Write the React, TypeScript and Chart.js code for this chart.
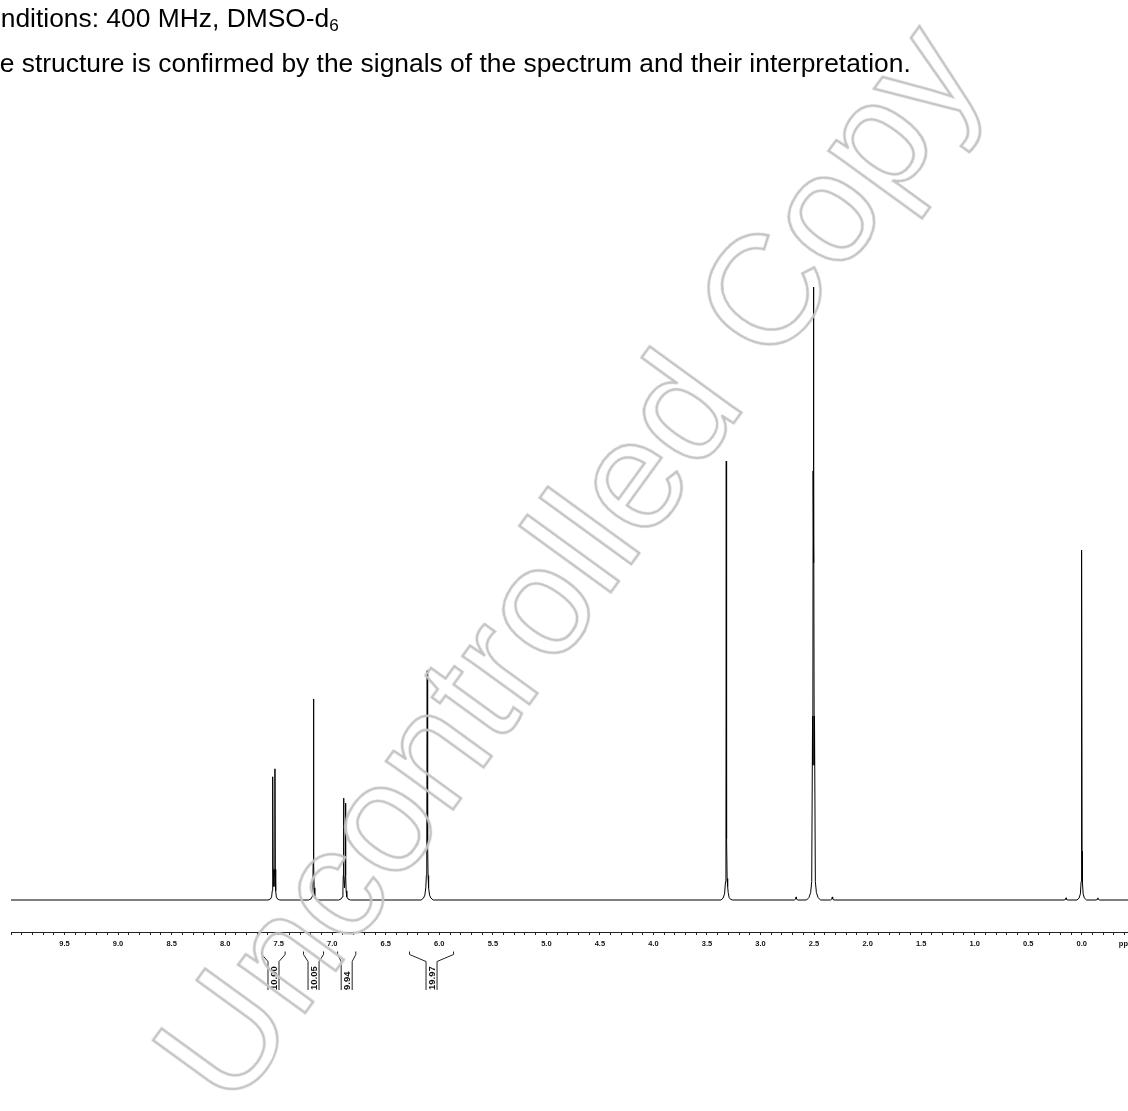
import React, { useEffect, useRef } from "react";
import { Chart, registerables } from "chart.js";

Chart.register(...registerables);

// ---- Text ----
const HEADER_LINE_1 = "Conditions: 400 MHz, DMSO-d";
const HEADER_LINE_1_SUB = "6";
const HEADER_LINE_2 =
  "The structure is confirmed by the signals of the spectrum and their interpretation.";
const WATERMARK = "Uncontrolled Copy";

// ---- Spectrum (ppm, relative intensity) ----
const SPECTRUM_POINTS: [number, number][] = [
  [10.0, 0],
  // doublet 7.55
  [7.6, 0], [7.578, 0.15], [7.566, 0.5], [7.56, 1.5], [7.557, 5], [7.555, 20.1],
  [7.552, 5], [7.545, 2.2], [7.538, 5], [7.535, 21.4], [7.532, 5], [7.528, 1.5],
  [7.522, 0.5], [7.51, 0.15], [7.49, 0],
  // singlet 7.18
  [7.22, 0], [7.197, 0.2], [7.187, 0.6], [7.181, 2], [7.178, 6], [7.175, 32.8],
  [7.172, 6], [7.169, 2], [7.163, 0.6], [7.153, 0.2], [7.13, 0],
  // doublet 6.89
  [6.94, 0], [6.918, 0.15], [6.906, 0.5], [6.9, 1.5], [6.897, 4], [6.894, 16.6],
  [6.891, 4], [6.885, 2], [6.879, 4], [6.876, 15.8], [6.873, 4], [6.87, 1.5],
  [6.864, 0.5], [6.852, 0.15], [6.83, 0],
  // singlet 6.11
  [6.17, 0], [6.148, 0.3], [6.135, 0.8], [6.126, 2], [6.121, 4], [6.117, 9],
  [6.113, 37.4], [6.109, 9], [6.105, 4], [6.1, 2], [6.091, 0.8], [6.078, 0.3],
  [6.056, 0],
  // water 3.32
  [3.37, 0], [3.35, 0.3], [3.336, 1], [3.327, 3], [3.323, 10], [3.32, 71.6],
  [3.317, 10], [3.312, 3.5], [3.307, 2.2], [3.302, 1.2], [3.293, 0.4], [3.28, 0.1],
  [3.26, 0],
  // small 2.67
  [2.685, 0], [2.672, 0.15], [2.668, 0.5], [2.664, 0.15], [2.651, 0],
  // DMSO quintet 2.50
  [2.57, 0], [2.548, 0.4], [2.532, 1.2], [2.522, 3], [2.514, 30], [2.5115, 22],
  [2.509, 70], [2.507, 55], [2.505, 100], [2.503, 55], [2.501, 70], [2.4985, 22],
  [2.496, 30], [2.488, 3], [2.478, 1.2], [2.462, 0.4], [2.44, 0],
  // small 2.33
  [2.346, 0], [2.334, 0.15], [2.33, 0.5], [2.326, 0.15], [2.314, 0],
  // TMS with satellites
  [0.165, 0], [0.151, 0.1], [0.147, 0.35], [0.143, 0.1], [0.13, 0],
  [0.045, 0], [0.025, 0.3], [0.013, 1], [0.006, 3], [0.003, 8], [0.0, 57.1],
  [-0.003, 8], [-0.006, 3], [-0.013, 1], [-0.025, 0.3], [-0.045, 0],
  [-0.133, 0], [-0.146, 0.1], [-0.15, 0.35], [-0.154, 0.1], [-0.167, 0],
  [-0.6, 0],
];

// ---- Axis ----
const PPM_MAX = 10.0;
const PPM_MIN = -0.6;
const MINOR_STEP = 0.1;
const TICK_LABELS = [
  "9.5", "9.0", "8.5", "8.0", "7.5", "7.0", "6.5", "6.0", "5.5", "5.0",
  "4.5", "4.0", "3.5", "3.0", "2.5", "2.0", "1.5", "1.0", "0.5", "0.0",
];
const AXIS_UNIT = "ppm";
const AXIS_UNIT_AT = -0.42;
const Y_MIN = -5.22;
const Y_MAX = 130.51;

// ---- Integrals ----
const INTEGRAL_FROM = [7.657, 7.268, 6.95, 6.278];
const INTEGRAL_TO = [7.44, 7.081, 6.78, 5.867];
const INTEGRAL_VALUES = ["10.00", "10.05", "9.94", "19.97"];

const FONT = '"Liberation Sans", Arial, Helvetica, sans-serif';

export default function App() {
  const canvasRef = useRef<HTMLCanvasElement>(null);

  useEffect(() => {
    const canvas = canvasRef.current;
    if (!canvas) return;

    const data = SPECTRUM_POINTS.map(([x, y]) => ({ x, y }));

    const tickValues: number[] = [];
    for (
      let k = Math.round(PPM_MIN / MINOR_STEP);
      k <= Math.round(PPM_MAX / MINOR_STEP);
      k++
    ) {
      tickValues.push(Number((k * MINOR_STEP).toFixed(1)));
    }

    const integralPlugin = {
      id: "integrals",
      afterDraw(chart: any) {
        const ctx = chart.ctx as CanvasRenderingContext2D;
        const xs = chart.scales.x;
        const yTop = 951.5;
        const yBend = 961.5;
        const yBottom = 990;
        const gap = 5.5;
        ctx.save();
        ctx.strokeStyle = "#222";
        ctx.lineWidth = 1;
        INTEGRAL_FROM.forEach((from, i) => {
          const x1 = xs.getPixelForValue(from);
          const x2 = xs.getPixelForValue(INTEGRAL_TO[i]);
          const cx = (x1 + x2) / 2;
          ctx.beginPath();
          ctx.moveTo(x1, yTop);
          ctx.lineTo(x1, yTop + 3);
          ctx.lineTo(cx - gap, yBend);
          ctx.lineTo(cx - gap, yBottom);
          ctx.moveTo(x2, yTop);
          ctx.lineTo(x2, yTop + 3);
          ctx.lineTo(cx + gap, yBend);
          ctx.lineTo(cx + gap, yBottom);
          ctx.stroke();
          ctx.save();
          ctx.translate(cx + 0.5, yBottom);
          ctx.rotate(-Math.PI / 2);
          ctx.font = `bold 9.5px ${FONT}`;
          ctx.fillStyle = "#111";
          ctx.textAlign = "left";
          ctx.textBaseline = "middle";
          ctx.fillText(INTEGRAL_VALUES[i], 0, 0);
          ctx.restore();
        });
        // axis unit
        ctx.font = `bold 7.5px ${FONT}`;
        ctx.fillStyle = "#111";
        ctx.textAlign = "center";
        ctx.textBaseline = "middle";
        ctx.fillText(AXIS_UNIT, xs.getPixelForValue(AXIS_UNIT_AT), 943.5);
        ctx.restore();
      },
    };

    const chart = new Chart(canvas, {
      type: "line",
      data: {
        datasets: [
          {
            data,
            borderColor: "#000",
            borderWidth: 1,
            pointRadius: 0,
            tension: 0,
            fill: false,
            borderJoinStyle: "bevel",
          } as any,
        ],
      },
      options: {
        animation: false,
        responsive: false,
        devicePixelRatio: 1,
        parsing: true,
        layout: { padding: { left: 11, right: 14, top: 100, bottom: 0 } },
        plugins: {
          legend: { display: false },
          tooltip: { enabled: false },
          title: { display: false },
        },
        scales: {
          x: {
            type: "linear",
            reverse: true,
            min: PPM_MIN,
            max: PPM_MAX,
            afterBuildTicks: (scale: any) => {
              scale.ticks = tickValues.map((v) => ({ value: v }));
            },
            afterFit: (scale: any) => {
              scale.height = 1111 - 932;
            },
            grid: {
              display: true,
              drawOnChartArea: false,
              drawTicks: true,
              tickLength: 3,
              color: "#222",
              lineWidth: 1,
            },
            border: { display: true, color: "#222", width: 1 },
            ticks: {
              autoSkip: false,
              maxRotation: 0,
              minRotation: 0,
              padding: 4,
              color: "#111",
              font: { family: FONT, size: 7.5, weight: "bold" },
              callback: (value: any) => {
                const lbl = TICK_LABELS.find(
                  (t) => Math.abs(parseFloat(t) - Number(value)) < 1e-6
                );
                return lbl ?? "";
              },
            },
          },
          y: {
            type: "linear",
            display: false,
            min: Y_MIN,
            max: Y_MAX,
          },
        },
      } as any,
      plugins: [integralPlugin],
    });

    return () => chart.destroy();
  }, []);

  return (
    <div
      style={{
        position: "fixed",
        left: 0,
        top: 0,
        width: 1128,
        height: 1111,
        overflow: "hidden",
        background: "#fff",
      }}
    >
      <canvas
        ref={canvasRef}
        width={1160}
        height={1111}
        style={{ position: "absolute", left: 0, top: 0, display: "block" }}
      />
      <div
        style={{
          position: "absolute",
          left: -33,
          top: 5,
          fontFamily: FONT,
          fontSize: 26.4,
          lineHeight: 1,
          color: "#000",
          whiteSpace: "nowrap",
        }}
      >
        {HEADER_LINE_1}
        <span style={{ fontSize: "0.65em", verticalAlign: "-0.25em" }}>
          {HEADER_LINE_1_SUB}
        </span>
      </div>
      <div
        style={{
          position: "absolute",
          left: -31,
          top: 50,
          fontFamily: FONT,
          fontSize: 26.4,
          lineHeight: 1,
          color: "#000",
          whiteSpace: "nowrap",
        }}
      >
        {HEADER_LINE_2}
      </div>
      <div
        style={{
          position: "absolute",
          left: 566,
          top: 562,
          transform: "translate(-50%, -50%) rotate(-54deg)",
          fontFamily: FONT,
          fontSize: 156,
          lineHeight: 1,
          color: "transparent",
          WebkitTextStroke: "2.5px #c4c4c4",
          whiteSpace: "nowrap",
          pointerEvents: "none",
        }}
      >
        {WATERMARK}
      </div>
    </div>
  );
}
